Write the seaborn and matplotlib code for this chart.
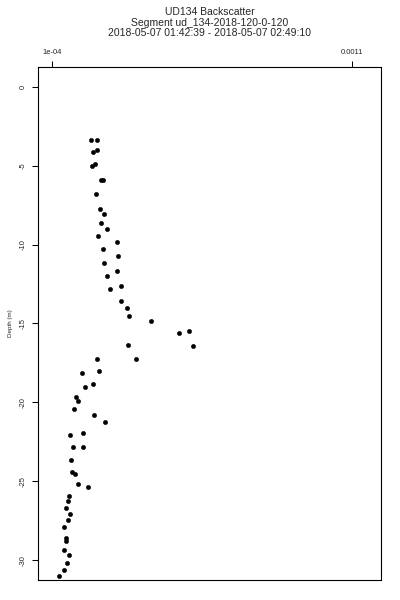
import pandas as pd
import matplotlib.pyplot as plt
import seaborn as sns

#
# Backscatter profile values (units of 1e-4)

depth = [-3.36, -3.36, -4.16, -4.03, -5.03, -4.90, -5.93, -5.89, -6.80, -7.73,
         -8.05, -8.64, -9.00, -9.48, -9.84, -10.30, -10.75, -11.15, -11.66, -12.00,
         -12.63, -12.84, -13.60, -14.02, -14.55, -14.85, -15.61, -15.48, -16.41, -16.35,
         -17.24, -17.28, -18.02, -18.16, -18.86, -19.03, -19.66, -19.90, -20.44, -20.79,
         -21.23, -22.05, -21.96, -22.81, -22.81, -23.68, -24.42, -24.54, -25.18, -25.39,
         -25.94, -26.24, -26.72, -27.06, -27.48, -27.88, -28.58, -28.77, -29.36, -29.66,
         -30.20, -30.61, -31.03]
backscatter_e4 = [2.32, 2.50, 2.37, 2.51, 2.35, 2.44, 2.64, 2.71, 2.48, 2.62,
                  2.75, 2.65, 2.85, 2.54, 3.19, 2.70, 3.21, 2.74, 3.19, 2.83,
                  3.31, 2.94, 3.31, 3.52, 3.58, 4.30, 5.25, 5.59, 5.72, 3.55,
                  3.82, 2.51, 2.59, 2.01, 2.38, 2.11, 1.82, 1.88, 1.73, 2.41,
                  2.79, 1.61, 2.04, 1.72, 2.05, 1.64, 1.67, 1.78, 1.88, 2.21,
                  1.57, 1.53, 1.47, 1.62, 1.54, 1.42, 1.49, 1.49, 1.42, 1.58,
                  1.52, 1.40, 1.24]

x_ticks = [1e-4, 1.1e-3]
x_tick_labels = ["1e-04", "0.0011"]
y_ticks = [0, -5, -10, -15, -20, -25, -30]
y_tick_labels = ["0", "-5", "-10", "-15", "-20", "-25", "-30"]

title_lines = ["UD134 Backscatter",
               "Segment ud_134-2018-120-0-120",
               "2018-05-07 01:42:39 - 2018-05-07 02:49:10"]

df = pd.DataFrame({"depth": depth,
                   "backscatter": [v * 1e-4 for v in backscatter_e4]})

#%%
# Draw the profile

sns.set_theme(style="white")
plt.rcParams["font.family"] = ["Liberation Sans", "DejaVu Sans"]

fig = plt.figure(figsize=(4, 6), dpi=100)
ax = fig.add_axes([38 / 400, 20 / 600, 343 / 400, 513 / 600])

sns.scatterplot(data=df, x="backscatter", y="depth", ax=ax,
                color="black", s=10, edgecolor="black", linewidth=0.3)

ax.set_xlim(5.43e-5, 1.1976e-3)
ax.set_ylim(-31.26, 1.25)

ax.xaxis.tick_top()
ax.set_xticks(x_ticks)
ax.set_xticklabels(x_tick_labels, fontsize=5.5)
ax.set_yticks(y_ticks)
ax.set_yticklabels(y_tick_labels, fontsize=5.5, rotation=90, va="center")
ax.tick_params(axis="both", direction="out", length=4, width=0.75,
               color="black", pad=4)
ax.tick_params(axis="x", bottom=False, top=True)
ax.tick_params(axis="y", left=True)

for sp in ax.spines.values():
    sp.set_visible(True)
    sp.set_color("black")
    sp.set_linewidth(0.8)

ax.set_xlabel("")
ax.set_ylabel("Depth (m)", fontsize=4.5, labelpad=5)
ax.set_title("\n".join(title_lines), fontsize=7.5, pad=22, linespacing=1.1)

fig.savefig("out.png", dpi=100)
